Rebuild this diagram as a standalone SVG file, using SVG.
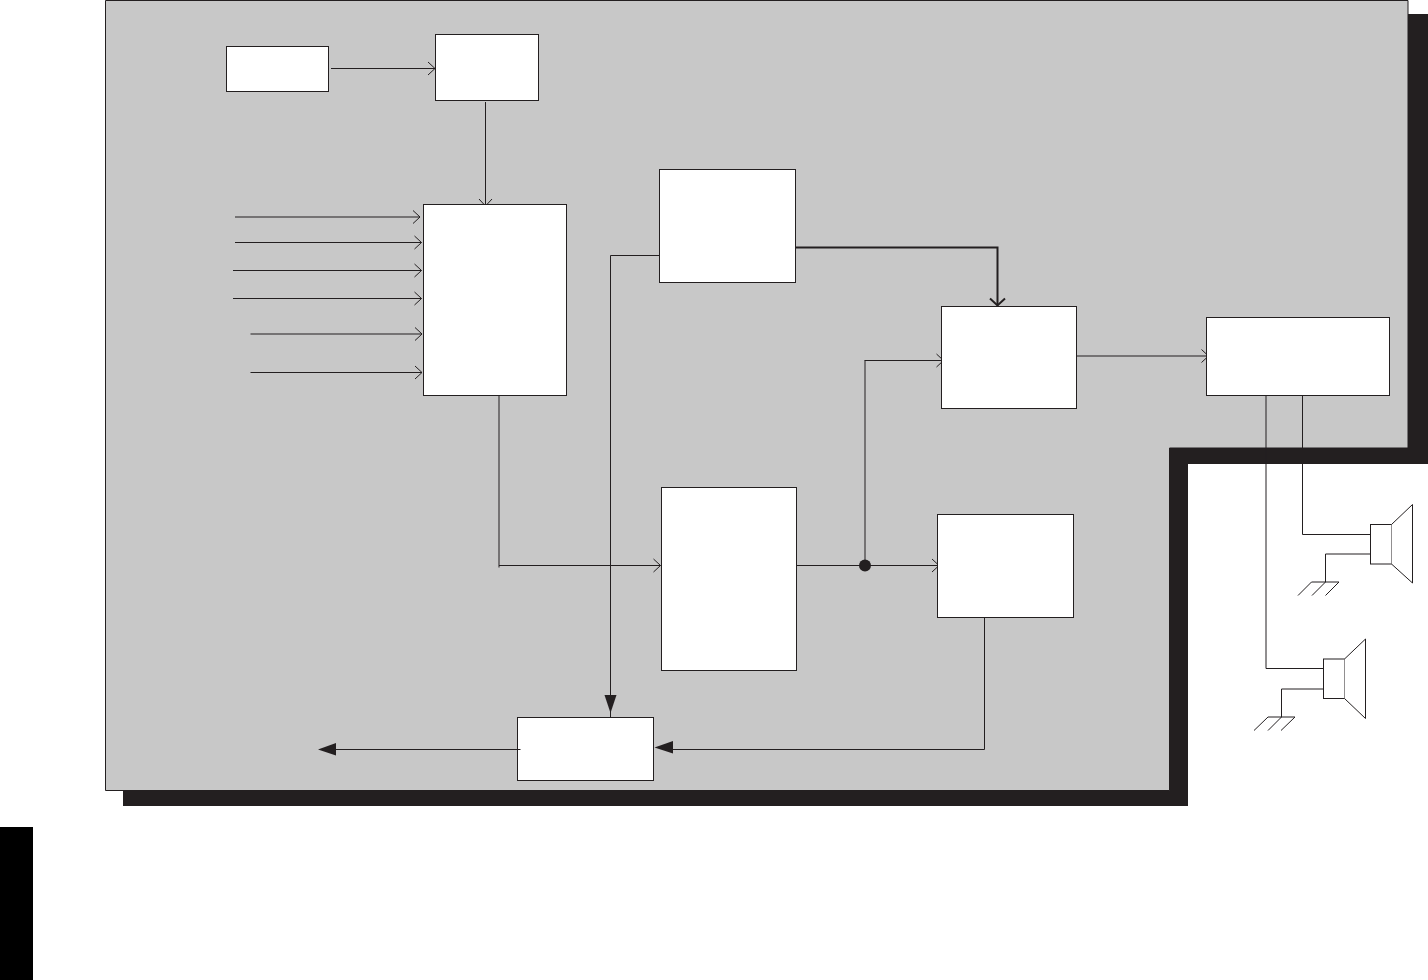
<svg xmlns="http://www.w3.org/2000/svg" width="1428" height="980" viewBox="0 0 1428 980">
<style>
.box{fill:#fff;stroke:#231f20;stroke-width:1}
.c{fill:none;stroke:#231f20;stroke-width:1}
.o{marker-end:url(#open)}
.sp{fill:#fff;stroke:#231f20;stroke-width:1}
</style>
<defs>
<marker id="open" markerUnits="userSpaceOnUse" markerWidth="12" markerHeight="18" refX="9" refY="9" orient="auto" overflow="visible">
<path d="M2,2.500L9,9L2,15.500" fill="none" stroke="#231f20" stroke-width="1"/>
</marker>
<marker id="openb" markerUnits="userSpaceOnUse" markerWidth="12" markerHeight="18" refX="9" refY="9" orient="auto" overflow="visible">
<path d="M2,1.500L9,9L2,16.500" fill="none" stroke="#231f20" stroke-width="2"/>
</marker>
</defs>
<rect width="1428" height="980" fill="#fff"/>
<rect id="tab" x="0" y="827" width="33" height="153" fill="#000"/>
<path id="shadow" d="M123,14H1428V464H1188V806H123Z" fill="#231f20"/>
<path id="panel" d="M105.500,0.500H1408V448H1169.500V790.500H105.500Z" fill="#c8c8c8" stroke="#231f20" stroke-width="1"/>

<g id="speaker-1">
<rect class="sp" x="1370.500" y="524.500" width="21" height="39.500"/>
<path class="sp" d="M1391.500,524.500L1412.500,504.500V583L1391.500,564"/>
</g>
<g id="speaker-2">
<rect class="sp" x="1323.500" y="659" width="21" height="39.500"/>
<path class="sp" d="M1344.500,659L1365.500,639V718.500L1344.500,698.500"/>
</g>

<g id="connectors">
<path class="c o" d="M331,68.500H435"/>
<path class="c o" d="M485.500,102V206"/>
<path class="c o" d="M235,217H420"/>
<path class="c o" d="M235,242.500H421.500"/>
<path class="c o" d="M233,270.500H421.500"/>
<path class="c o" d="M233,298.500H421.500"/>
<path class="c o" d="M250.500,334H422"/>
<path class="c o" d="M250.500,372.500H422"/>
<path class="c" d="M499,396V567.500"/>
<path class="c o" d="M499,565.500H660.500"/>
<path class="c" d="M659,255.500H610.500V717.500"/>
<path d="M604.500,695L610.500,713L616.500,695Z" fill="#231f20"/>
<path d="M796,247.500H997.500V305.500" fill="none" stroke="#231f20" stroke-width="2" marker-end="url(#openb)"/>
<path class="c o" d="M797,565.500H939"/>
<path class="c" d="M865,565V360.500"/>
<path class="c o" d="M864.500,360.500H943.500"/>
<path class="c o" d="M1077,356H1208.500"/>
<path class="c" d="M984.500,617.500V749.500H672"/>
<path d="M673,741L654.500,747.500L673,753.500Z" fill="#231f20"/>
<path class="c" d="M520,749.500H336"/>
<path d="M336,743L318,749.500L336,755.500Z" fill="#231f20"/>
<circle cx="865" cy="565.500" r="6" fill="#231f20"/>
<path class="c" d="M1266,396V668.500H1323.500"/>
<path class="c" d="M1302.500,396V534.500H1370.500"/>
<path class="c" d="M1370.500,554H1325.500V582"/>
<path class="c" d="M1311.500,582H1339M1311.500,582L1298,595.500M1325.500,582L1312,595.500M1339,582L1325.500,595.500"/>
<path class="c" d="M1323.500,689H1281.500V717"/>
<path class="c" d="M1268,717H1295M1268,717L1254,730.500M1281.500,717L1268,730.500M1295,717L1281,730.500"/>
</g>

<g id="node-a"><rect class="box" x="226.500" y="46.500" width="102" height="45"/></g>
<g id="node-b"><rect class="box" x="435.500" y="34.500" width="103" height="66"/></g>
<g id="node-c"><rect class="box" x="423.500" y="204.500" width="143" height="191"/></g>
<g id="node-d"><rect class="box" x="659.500" y="169.500" width="136" height="113"/></g>
<g id="node-e"><rect class="box" x="941.500" y="306.500" width="135" height="102"/></g>
<g id="node-f"><rect class="box" x="1206.500" y="317.500" width="183" height="78"/></g>
<g id="node-g"><rect class="box" x="661.500" y="487.500" width="135" height="183"/></g>
<g id="node-h"><rect class="box" x="937.500" y="514.500" width="136" height="103"/></g>
<g id="node-i"><rect class="box" x="517.500" y="717.500" width="136" height="63"/></g>
<path class="c" d="M517.500,749.500H520.500"/>
</svg>
